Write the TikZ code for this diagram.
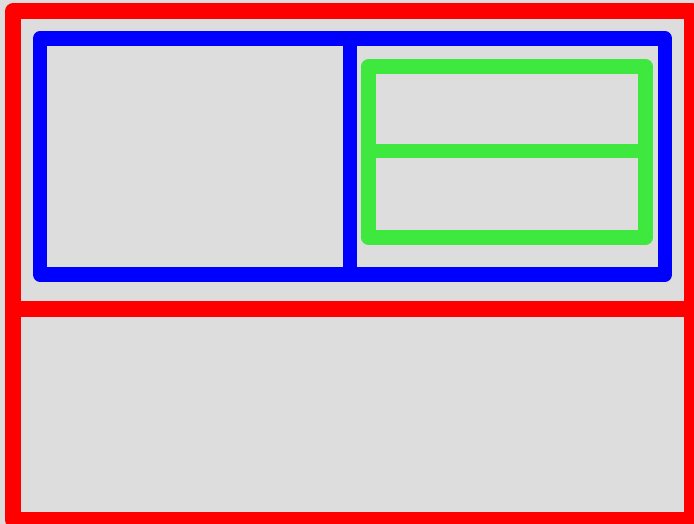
\documentclass[tikz,border=0pt]{standalone}
\definecolor{bgray}{RGB}{221,221,221}
\definecolor{fgreen}{RGB}{62,232,62}
\begin{document}
\begin{tikzpicture}[x=1pt,y=-1pt,line join=round,
  frame/.style={line width=15.5pt},
  inner/.style={line width=14.5pt}]
\useasboundingbox (0,0) rectangle (694,524);
\clip (0,0) rectangle (694,524);
\fill[bgray] (0,0) rectangle (694,524);
\draw[frame,red] (13,11) rectangle (692,520);
\draw[frame,red] (13,309) -- (692,309);
\draw[inner,blue] (40,38.5) rectangle (665,274.5);
\draw[inner,blue] (350,38.5) -- (350,274.5);
\draw[inner,fgreen] (368.5,66.5) rectangle (645.5,237.5);
\draw[inner,fgreen] (368.5,151) -- (645.5,151);
\end{tikzpicture}
\end{document}
